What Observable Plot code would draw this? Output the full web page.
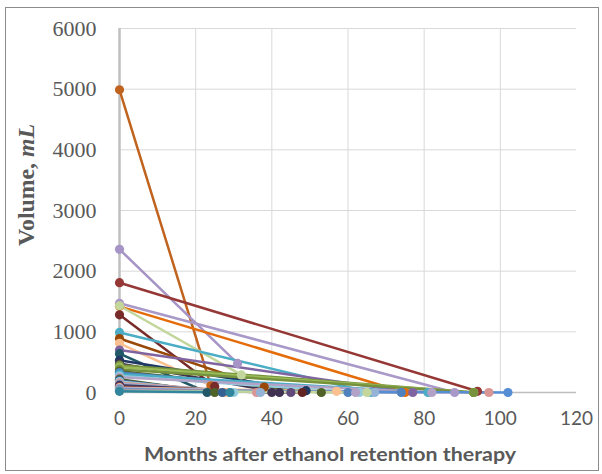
<!DOCTYPE html>
<html><head><meta charset="utf-8">
<script src="https://cdn.jsdelivr.net/npm/d3@7"></script>
<script src="https://cdn.jsdelivr.net/npm/@observablehq/plot@0.6"></script>
<style>
body{margin:0;background:#fff;}
#wrap{position:relative;width:602px;height:474px;}
#frame{position:absolute;left:5px;top:7px;width:594px;height:464px;border:1px solid #8c8c8c;box-sizing:border-box;pointer-events:none;}
</style></head><body><div id="wrap"><div id="frame"></div></div>
<script>
const xTicks = [0, 20, 40, 60, 80, 100, 120];
const yTicks = [0, 1000, 2000, 3000, 4000, 5000, 6000];
const startVolume = [4990, 2360, 1810, 1470, 1420, 1430, 1280, 990, 890, 810, 700, 640, 530, 480, 450, 420, 380, 350, 330, 300, 270, 250, 220, 200, 180, 160, 140, 120, 100, 90, 80, 70, 60, 50, 40, 30, 25, 20];
const endMonth =    [24, 31, 94, 88, 75, 32, 25, 66, 38, 28, 77, 23, 49, 42, 93, 93, 93, 53, 60, 81, 63, 82, 25, 27, 30, 36, 37, 40, 45, 48, 57, 62, 67, 74, 97, 102, 65, 29];
const endVolume =   [110, 480, 20, 0, 0, 290, 100, 0, 90, 0, 0, 0, 30, 0, 0, 0, 0, 0, 0, 0, 0, 0, 0, 0, 0, 0, 0, 0, 0, 0, 20, 0, 0, 0, 0, 0, 0, 0];
const colors = ["#C0631E","#A694C6","#953735","#A999C9","#E46C0A","#C3D69B","#772C2A","#4BACC6","#984807","#FAC090",
  "#8064A2","#215968","#1F3864","#3F3151","#77933C","#9BBB59","#76923C","#4F6228","#4F81BD","#4BACC6",
  "#93CDDD","#B3A2C7","#4F6228","#376092","#93CDDD","#D99694","#95B3D7","#403151","#604A7B","#632523",
  "#FAC090","#B3A2C7","#95B3D7","#4F81BD","#D99694","#558ED5","#C3D69B","#31859C"];

const rows = [];
startVolume.forEach((v, i) => {
  rows.push({s: i, month: 0, volume: v, color: colors[i]});
  rows.push({s: i, month: endMonth[i], volume: endVolume[i], color: colors[i]});
});

const chart = Plot.plot({
  width: 602, height: 474,
  marginLeft: 119, marginRight: 26, marginTop: 28, marginBottom: 82,
  style: {background: "transparent"},
  x: {domain: [0, 120]},
  y: {domain: [0, 6000]},
  color: {type: "identity"},
  marks: [
    Plot.gridY(yTicks.slice(1), {stroke: "#d9d9d9", strokeOpacity: 1, strokeWidth: 1}),
    Plot.gridX(xTicks.slice(1, -1), {stroke: "#d9d9d9", strokeOpacity: 1, strokeWidth: 1}),
    Plot.ruleY([0], {stroke: "#bfbfbf", strokeWidth: 1.5}),
    Plot.ruleX([0], {stroke: "#bfbfbf", strokeWidth: 2.5}),
    Plot.line(rows, {x: "month", y: "volume", z: "s", stroke: "color", strokeWidth: 2.5}),
    Plot.dot(rows, {x: "month", y: "volume", fill: "color", r: 4.6}),
    Plot.axisY(yTicks, {tickSize: 0, tickPadding: 23, fontSize: 22, fontFamily: "Liberation Serif", fill: "#595959", label: null, tickFormat: d3.format("d")}),
    Plot.axisX(xTicks, {tickSize: 0, tickPadding: 19, fontSize: 19, fontFamily: "Lato", fill: "#595959", label: null, tickFormat: d3.format("d")})
  ]
});
chart.style.position = "absolute";
chart.style.left = "0px";
chart.style.top = "0px";
document.getElementById("wrap").appendChild(chart);

const svg = d3.select(chart);
svg.append("text")
  .attr("x", 330).attr("y", 461)
  .attr("text-anchor", "middle")
  .attr("font-family", "Lato").attr("font-weight", "bold").attr("font-size", 18.5)
  .attr("fill", "#595959")
  .attr("textLength", 372).attr("lengthAdjust", "spacingAndGlyphs")
  .text("Months after ethanol retention therapy");

const yl = svg.append("text")
  .attr("transform", "translate(34,185) rotate(-90)")
  .attr("text-anchor", "middle")
  .attr("font-family", "Liberation Serif").attr("font-weight", "bold").attr("font-size", 23)
  .attr("fill", "#595959")
  .attr("textLength", 122).attr("lengthAdjust", "spacingAndGlyphs");
yl.append("tspan").text("Volume, ");
yl.append("tspan").attr("font-style", "italic").text("mL");
</script>
</body></html>
